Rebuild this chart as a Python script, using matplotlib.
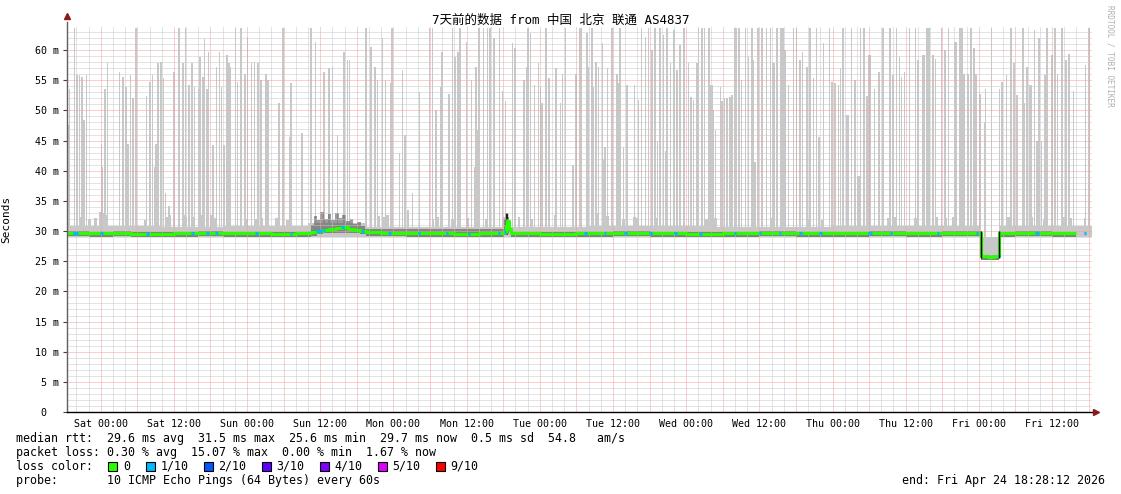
import numpy as np
import matplotlib
matplotlib.use("Agg")
import matplotlib.pyplot as plt
from matplotlib.patches import Rectangle

# ---------------- data (hours relative to Sat 00:00, values in ms) ----------------
x_start, x_end = -5.53, 162.47
tick_hours = [0, 12, 24, 36, 48, 60, 72, 84, 96, 108, 120, 132, 144, 156]
tick_labels = ["Sat 00:00", "Sat 12:00", "Sun 00:00", "Sun 12:00", "Mon 00:00",
               "Mon 12:00", "Tue 00:00", "Tue 12:00", "Wed 00:00", "Wed 12:00",
               "Thu 00:00", "Thu 12:00", "Fri 00:00", "Fri 12:00"]
y_ticks = [0, 5, 10, 15, 20, 25, 30, 35, 40, 45, 50, 55, 60]
y_labels = ["0  ", "5 m", "10 m", "15 m", "20 m", "25 m", "30 m", "35 m",
            "40 m", "45 m", "50 m", "55 m", "60 m"]

# tall grey smoke spikes (time, top of highest ping)
spike_hours = [-5.3, -5.1, -4.3, -3.9, -3.5, -3.1, -2.7, -2.3, 0.1, 0.3, 0.7, 1.1, 3.1, 3.7, 4.1, 4.5,
               4.9, 5.3, 5.8, 7.5, 8.1, 8.5, 8.8, 9.1, 9.4, 9.9, 10.3, 10.6, 11.2, 12.0, 12.8, 13.5,
               13.9, 14.5, 15.0, 15.4, 16.1, 16.3, 16.8, 17.0, 17.4, 17.7, 18.4, 19.0, 19.5, 19.8,
               20.2, 20.7, 21.0, 21.3, 22.1, 22.4, 23.0, 23.7, 24.1, 24.7, 25.2, 25.8, 26.3, 27.1,
               27.4, 29.2, 29.3, 29.9, 31.0, 31.2, 33.0, 34.5, 35.2, 36.6,
               37.4, 38.0, 38.8, 39.9, 40.5, 40.8, 43.5, 44.3, 45.0, 45.4, 46.2, 46.7, 47.5, 47.8,
               49.0, 49.5, 49.9, 51.1, 52.3, 53.9, 54.4, 55.0, 55.8, 56.0, 57.1, 57.7, 58.1, 58.6,
               58.9, 60.0, 60.8, 61.3, 61.5, 61.8, 62.0, 62.8, 63.4, 63.8, 64.5, 65.4, 65.9, 66.4,
               67.5, 67.9, 69.4, 69.8, 70.1, 70.5, 71.1, 71.8, 72.1, 72.4, 73.0, 73.5, 74.7, 75.4,
               75.7, 76.2, 77.4, 77.9, 78.5,
               78.8, 79.7, 80.0, 80.6, 80.8, 81.2, 81.6, 82.3, 82.5, 82.7, 83.1, 83.8, 84.7, 84.9,
               85.2, 85.7, 86.3, 87.5, 88.2, 88.7, 89.3, 89.8, 90.4, 90.9, 91.3, 91.7, 92.3, 92.6,
               92.9, 93.4, 94.0, 94.5, 95.0, 95.6, 96.4, 96.8, 97.2, 97.8, 98.0, 98.6, 99.0, 99.7,
               100.0, 100.2, 100.4, 100.8, 101.6, 101.9, 102.3, 102.7, 103.2, 103.5, 104.0, 104.2,
               104.7, 105.1, 105.7, 106.2, 106.8, 107.0, 107.3, 107.8, 108.4, 109.2, 109.8, 110.2,
               110.4, 110.9, 111.5, 111.7, 111.9, 112.2, 112.8, 113.6, 114.1, 114.7, 115.1, 115.8,
               116.3, 116.9, 117.4, 117.8, 118.5, 119.5, 119.9, 120.4, 121.0,
               121.3, 121.7, 122.3, 122.5, 123.1, 123.7, 124.2, 124.4, 124.6, 125.2, 125.7, 126.0,
               126.2, 126.9, 127.6, 128.3, 129.4, 129.9, 130.5, 131.0, 131.3, 131.8, 132.6, 133.6,
               134.0, 134.8, 135.0, 135.4, 135.6, 135.8, 136.5, 136.9, 137.9, 138.4, 139.0, 140.1,
               140.3, 140.9, 141.2, 141.6, 142.2, 142.7, 143.2, 143.5, 144.2, 144.9, 145.1, 146.1,
               147.4, 147.8, 148.5, 149.3, 149.8, 150.3, 151.2, 151.5, 151.9, 152.4, 152.6, 153.1,
               153.5, 153.9, 154.3, 154.8, 155.2, 155.9, 156.1, 156.5, 156.9, 157.6, 158.3, 158.8,
               159.5, 161.5, 162.1]
spike_ms = [47.6, 53.5, 63.6, 55.8, 55.8, 55.6, 48.4, 55.8, 44.4, 40.7, 53.6, 57.8, 56.4, 55.5, 53.9, 44.4,
            55.8, 52.0, 63.6, 52.4, 54.7, 55.8, 40.7, 44.4, 57.8, 58.1, 55.3, 36.3, 34.1, 56.4, 63.6, 57.8,
            63.6, 54.2, 57.8, 53.9, 53.6, 58.9, 55.5, 61.8, 53.6, 59.7, 44.3, 57.2, 59.7, 53.9,
            44.3, 59.2, 57.8, 57.2, 63.6, 54.7, 63.6, 56.1, 62.2, 57.8, 58.1, 57.8, 55.0, 56.1,
            55.0, 51.3, 49.2, 63.6, 45.6, 54.5, 46.2, 63.6, 61.4, 56.4,
            57.0, 57.2, 46.0, 59.7, 58.3, 58.3, 63.6, 60.5, 57.2, 55.0, 62.0, 55.0, 54.5, 63.6,
            43.0, 56.7, 46.0, 36.3, 53.0, 63.6, 63.6, 50.0, 53.9, 59.7, 52.8, 63.6, 58.9, 59.7,
            63.6, 61.4, 55.0, 40.7, 57.2, 46.8, 63.6, 63.6, 63.6, 63.6, 62.0, 63.6, 53.2, 51.5,
            61.1, 60.3, 55.0, 57.2, 63.6, 62.8, 54.2, 57.8, 53.9, 51.2, 63.6, 55.3, 57.0, 51.2,
            56.1, 63.6, 41.0, 56.1, 63.6,
            63.6, 62.8, 57.2, 63.6, 53.9, 58.1, 57.2, 61.1, 42.0, 44.0, 57.0, 63.6, 56.1, 54.5,
            63.6, 44.0, 54.2, 54.2, 51.7, 63.6, 62.2, 63.6, 60.0, 63.6, 45.0, 63.6, 62.5, 43.2,
            63.6, 57.8, 63.3, 56.7, 60.8, 63.6, 57.8, 52.2, 51.7, 57.8, 63.6, 63.6, 63.6, 63.6,
            54.2, 54.2, 50.0, 46.8, 53.9, 51.5, 52.0, 52.0, 52.2, 52.5, 63.6, 63.6,
            63.6, 55.0, 63.6, 58.9, 63.6, 58.3, 41.4, 63.6, 63.6, 63.6, 63.6, 57.8,
            57.8, 63.6, 63.6, 63.6, 63.6, 60.0, 54.2, 63.6, 63.6, 58.3, 59.7, 57.2,
            63.6, 55.3, 63.6, 45.6, 61.1, 63.6, 54.7, 54.5, 54.2,
            57.0, 63.6, 49.2, 49.2, 63.6, 55.0, 39.1, 39.1, 63.6, 63.6, 52.4, 59.2,
            59.2, 53.6, 56.4, 63.6, 63.6, 55.8, 63.6, 58.9, 55.6, 56.4, 63.6, 63.6,
            58.3, 59.2, 59.2, 63.6, 63.6, 63.6, 59.2, 58.5, 63.6, 60.0, 63.6, 61.4,
            61.4, 63.6, 63.6, 56.1, 56.1, 63.6, 60.3, 56.1, 52.8, 48.1, 53.6, 63.6,
            53.6, 54.7, 55.8, 63.6, 57.8, 52.5, 63.6, 51.2, 57.2, 54.2, 54.2, 63.3,
            45.0, 62.0, 45.0, 55.8, 63.6, 59.2, 59.2, 63.6, 56.1, 63.6, 58.3, 59.4,
            53.3, 57.5, 63.6]

# small smoke bumps just above the median
bump_hours = [-3.4, -2.8, -1.8, -0.9, 0.0, 0.4, 0.9, 7.3, 10.8, 11.3, 13.6, 14.0, 15.3, 16.6, 18.2,
              18.6, 23.9, 25.6, 26.4, 28.8, 30.6, 45.5, 46.5, 47.0, 50.4, 54.5, 55.3, 57.7, 60.2,
              63.2, 66.0, 68.6, 70.7, 74.6, 80.7, 81.5, 83.1, 85.7, 87.5, 88.0, 91.2, 95.0, 99.3,
              100.8, 106.9, 110.0, 111.7, 115.9, 118.4, 122.5, 124.2, 129.1, 130.2, 133.6, 137.0,
              138.6, 139.8, 148.8, 152.6, 154.7, 158.0, 159.0, 161.4]
bump_ms = [32.4, 32.2, 32.0, 32.2, 33.2, 33.0, 32.6, 31.8, 32.4, 32.6, 32.7, 32.4, 32.4, 32.6, 32.6,
           32.2, 32.0, 32.0, 32.2, 32.2, 31.8, 32.5, 32.4, 32.6, 33.5, 32.0, 32.4, 32.0, 32.2,
           32.0, 32.4, 32.4, 32.0, 32.6, 33.2, 33.0, 32.5, 32.0, 32.4, 32.2, 32.2, 32.4, 32.0,
           32.2, 32.4, 32.2, 32.2, 32.0, 31.9, 32.0, 32.0, 32.2, 32.4, 32.2, 32.4,
           32.2, 32.4, 32.4, 32.4, 32.0, 32.4, 32.2, 32.2]

# light smoke band top (step knots)
band_hours = [-5.53, 10.0, 20.0, 34.0, 43.5, 60.0, 80.0, 100.0, 120.0, 144.35, 147.35, 162.47]
band_top = [30.8, 30.7, 30.8, 31.3, 30.7, 30.6, 30.8, 30.7, 30.8, 26.8, 30.8, 30.8]

# dark smoke on Sunday afternoon and Monday evening (step knots)
dark_hours = [34.4, 35.0, 35.5, 36.0, 36.6, 37.2, 37.8, 38.4, 39.0, 39.6, 40.2, 40.8, 41.4,
              42.0, 42.6, 43.4, 66.2, 66.4, 66.7, 67.0]
dark_top = [31.0, 32.5, 31.8, 33.2, 32.0, 32.8, 31.9, 33.0, 32.2, 32.6, 31.6, 32.0, 31.2,
            31.5, 30.8, 30.3, 32.0, 33.0, 32.3, 30.2]

# median rtt (step knots)
median_hours = [-5.53, -2.0, 2.0, 5.0, 9.0, 12.0, 16.0, 20.0, 24.0, 28.0, 32.0, 34.5, 35.5, 36.5,
                37.5, 38.5, 39.5, 40.5, 41.5, 42.5, 43.5, 46.0, 50.0, 54.0, 58.0, 62.0, 66.1,
                66.4, 66.7, 67.0, 67.3, 72.0, 78.0, 84.0, 90.0, 96.0, 102.0, 108.0, 114.0, 120.0,
                126.0, 132.0, 138.0, 144.35, 145.5, 146.5, 147.35, 150.0, 156.0, 160.0]
median_ms = [29.7, 29.6, 29.7, 29.5, 29.5, 29.6, 29.7, 29.6, 29.6, 29.5, 29.6, 29.8, 30.0, 30.2,
             30.3, 30.5, 30.6, 30.4, 30.2, 30.0, 29.8, 29.7, 29.6, 29.6, 29.5, 29.6, 29.9,
             30.8, 31.6, 30.4, 29.6, 29.5, 29.6, 29.7, 29.6, 29.5, 29.6, 29.7, 29.6, 29.6,
             29.7, 29.6, 29.7, 25.8, 25.7, 25.8, 29.6, 29.7, 29.6, 29.7]

# median points drawn with 1/10 loss colour
blue_hours = [-4.3, -4.0, 0.1, 7.7, 15.1, 17.5, 19.0, 25.5, 31.2, 35.5, 36.0, 36.6, 39.6, 42.9,
              47.3, 52.2, 56.8, 60.4, 65.3, 66.3, 79.5, 82.7, 86.0, 90.1, 94.2, 98.3, 104.0,
              108.1, 111.4, 114.7, 118.0, 126.0, 126.3, 129.6, 137.3, 143.7, 147.3, 153.4,
              153.7, 161.4]

dip_start, dip_end = 144.35, 147.35

loss_labels = ["0", "1/10", "2/10", "3/10", "4/10", "5/10", "9/10"]
loss_colors = ["#26ff00", "#00b8ff", "#0059ff", "#5e00ff", "#7e00ff", "#dd00ff", "#ff0000"]

title = "7天前的数据 from 中国 北京 联通 AS4837"
stat_lines = ["median rtt:  29.6 ms avg  31.5 ms max  25.6 ms min  29.7 ms now  0.5 ms sd  54.8   am/s",
              "packet loss: 0.30 % avg  15.07 % max  0.00 % min  1.67 % now"]
probe_line = "probe:       10 ICMP Echo Pings (64 Bytes) every 60s"
end_line = "end: Fri Apr 24 18:28:12 2026"

# ---------------- figure ----------------
W, H = 1121, 494
fig = plt.figure(figsize=(W / 100, H / 100), dpi=100)
fig.patch.set_facecolor("white")
ax = fig.add_axes([67 / W, 1 - 412 / H, (1091.5 - 67) / W, (412 - 26) / H])
ax.set_xlim(x_start, x_end)
ax.set_ylim(0, 64)
ax.set_facecolor("white")

mono = "DejaVu Sans Mono"
smoke = "#c8c8c8"

sh = np.array(spike_hours)
sm = np.array(spike_ms)
in_dip = (sh > dip_start) & (sh < dip_end)
base = np.where(in_dip, 25.9, 29.8)
ax.bar(sh, sm - base, bottom=base, width=0.26, color=smoke, linewidth=0, zorder=1,
       antialiased=False)

bh = np.array(bump_hours)
ax.bar(bh, np.array(bump_ms) - 29.8, bottom=29.8, width=0.45, color=smoke, linewidth=0, zorder=1,
       antialiased=False)

mh = np.array(median_hours)
mv = np.array(median_ms)
ax.fill_between(band_hours, 29.0, band_top, step="post", color=smoke, linewidth=0, zorder=1)
ax.fill_between([dip_start, dip_end], [25.4, 25.4], [26.8, 26.8], step="post",
                color=smoke, linewidth=0, zorder=1)
ax.fill_between(dark_hours, 29.6, dark_top, step="post", color="#5a5a5a", alpha=0.6,
                linewidth=0, zorder=1.5)

# darker band hugging the median
ax.fill_between(mh, mv - 0.55, mv + 0.3, step="post", color="#808080", linewidth=0, zorder=1.6)

# dip edges (black smoke)
ax.vlines([dip_start, dip_end - 0.05], 25.5, 30.0, color="black", linewidth=1.0, zorder=4)
ax.vlines([66.45, 66.6], 29.5, 33.0, color="#222222", linewidth=1.0, zorder=1.7)

# grid (drawn over the smoke, like rrdtool): 1px on / 1px off dots
gkw = dict(linewidth=0.72, linestyle=(0, (1, 1)), antialiased=True)
for yv in np.arange(1, 64, 1):
    if yv % 5:
        ax.axhline(yv, color="#c8c8c8", zorder=2, **gkw)
for xv in np.arange(-4, 163, 2):
    if xv % 6:
        ax.axvline(xv, color="#c8c8c8", zorder=2, **gkw)
for yv in np.arange(5, 64, 5):
    ax.axhline(yv, color="#f4a0a0", zorder=2.1, **gkw)
for xv in np.arange(0, 163, 6):
    ax.axvline(xv, color="#f4a0a0", zorder=2.1, **gkw)

# median line
ax.step(mh, mv, where="post", color=loss_colors[0], linewidth=2.3, zorder=3, solid_capstyle="butt")
blue_vals = np.array([mv[np.searchsorted(mh, b, side="right") - 1] for b in blue_hours])
for b, v in zip(blue_hours, blue_vals):
    ax.plot([b - 0.22, b + 0.22], [v, v], color=loss_colors[1], linewidth=2.3, zorder=3.1,
            solid_capstyle="butt")

# axes styling
for s in ["top", "right", "left", "bottom"]:
    ax.spines[s].set_visible(False)
ax.plot([0, 0], [0, 1 + 4 / 386], transform=ax.transAxes, color="#606060", linewidth=1.0,
        clip_on=False, zorder=5)
ax.plot([0, 1 + 4 / 1024.5], [0, 0], transform=ax.transAxes, color="black", linewidth=1.0,
        clip_on=False, zorder=5)
ax.plot([0], [1 + 10 / 386], marker="^", markersize=5, color="#8b1a1a", transform=ax.transAxes,
        clip_on=False, zorder=6)
ax.plot([1 + 4 / 1024.5], [0], marker=">", markersize=5, color="#8b1a1a", transform=ax.transAxes,
        clip_on=False, zorder=6)

ax.set_xticks(tick_hours)
ax.set_xticklabels(tick_labels, fontsize=7.2, family=mono)
ax.set_yticks(y_ticks)
ax.set_yticklabels(y_labels, fontsize=7.2, family=mono)
ax.tick_params(axis="x", length=0, pad=5)
ax.tick_params(axis="y", length=3, width=0.8, color="#404040", pad=3)

ax.set_ylabel("Seconds", family=mono, fontsize=8)
ax.yaxis.set_label_coords(-(67 - 11) / 1024.5, 0.5)

# title and side label
fig.text(0.5, 1 - 20 / H, title, ha="center", va="center", fontsize=9,
         family=[mono, "Noto Sans CJK SC"])
fig.text(1110 / W, 1 - 5 / H, "RRDTOOL / TOBI OETIKER", rotation=270, ha="center", va="top",
         fontsize=5.6, family=mono, color="#b0b0b0")

# legend / statistics
fs = 8.4
def px(x, y):
    return x / W, 1 - y / H

fig.text(*px(16, 438), stat_lines[0], family=mono, fontsize=fs, va="center")
fig.text(*px(16, 452), stat_lines[1], family=mono, fontsize=fs, va="center")
fig.text(*px(16, 466), "loss color:", family=mono, fontsize=fs, va="center")
box_x = [108, 146, 204, 262, 320, 378, 436]
lab_x = [123, 161, 218, 276, 334, 392, 450]
for bx, lx, lab, col in zip(box_x, lab_x, loss_labels, loss_colors):
    fig.patches.append(Rectangle(px(bx, 470.5), 9 / W, 9 / H, transform=fig.transFigure,
                                 facecolor=col, edgecolor="black", linewidth=0.8))
    fig.text(*px(lx, 466), lab, family=mono, fontsize=fs, va="center")
fig.text(*px(16, 480), probe_line, family=mono, fontsize=fs, va="center")
fig.text(*px(1105, 480), end_line, family=mono, fontsize=fs, va="center", ha="right")

fig.savefig("out.png", dpi=100, facecolor="white")
